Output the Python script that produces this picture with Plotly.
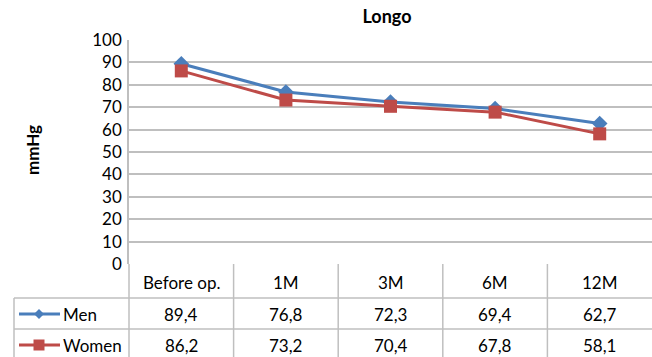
import plotly.graph_objects as go

# Follow-up timepoints and mean pressure (mmHg) by sex
categories = ["Before op.", "1M", "3M", "6M", "12M"]
men = [89.4, 76.8, 72.3, 69.4, 62.7]
women = [86.2, 73.2, 70.4, 67.8, 58.1]
y_ticks = [0, 10, 20, 30, 40, 50, 60, 70, 80, 90, 100]

BLUE = "#4A7EBB"
RED = "#BE4B48"
GRID = "#BFBFBF"
FONT = "Lato"

W, H = 652, 357
L, R, T, B = 129, 0, 40, 93  # plot area: x 129..652, y 40..264

def px_x(x):
    return (x - L) / (W - L - R)

def px_y(y):
    return (H - B - y) / (H - B - T)

fig = go.Figure()
idx = list(range(len(categories)))
fig.add_trace(go.Scatter(
    x=idx, y=men, mode="lines+markers", name="Men",
    line=dict(color=BLUE, width=3),
    marker=dict(symbol="diamond", size=12, color=BLUE),
))
fig.add_trace(go.Scatter(
    x=idx, y=women, mode="lines+markers", name="Women",
    line=dict(color=RED, width=3),
    marker=dict(symbol="square", size=13, color=RED),
))

shapes = []
annotations = []

# data table grid
col_w = 1.0 / len(categories)
y_hdr_top, y_hdr_bot, y_mid, y_bot = 264, 298, 329, 360
x_left = 14
line = dict(color=GRID, width=1.5)
for yy in (y_hdr_bot, y_mid):
    shapes.append(dict(type="line", xref="paper", yref="paper",
                       x0=px_x(x_left), x1=1, y0=px_y(yy), y1=px_y(yy), line=line))
for i in range(1, len(categories)):
    shapes.append(dict(type="line", xref="paper", yref="paper",
                       x0=i * col_w, x1=i * col_w, y0=px_y(y_hdr_top), y1=px_y(y_bot), line=line))
shapes.append(dict(type="line", xref="paper", yref="paper",
                   x0=0, x1=0, y0=px_y(y_hdr_top), y1=px_y(y_bot), line=line))
shapes.append(dict(type="line", xref="paper", yref="paper",
                   x0=px_x(x_left), x1=px_x(x_left), y0=px_y(y_hdr_bot), y1=px_y(y_bot), line=line))

txt = dict(family=FONT, size=17, color="#000")
row_centers = [282, 314, 345]
for i, cat in enumerate(categories):
    xc = (i + 0.5) * col_w
    cells = (cat,
             f"{men[i]:.1f}".replace(".", ","),
             f"{women[i]:.1f}".replace(".", ","))
    for rc, text in zip(row_centers, cells):
        annotations.append(dict(x=xc, y=px_y(rc), xref="paper", yref="paper",
                                xanchor="center", yanchor="middle",
                                text=text, showarrow=False, font=txt))

# legend keys inside the table's first column
for name, color, sym, rc in (("Men", BLUE, "diamond", row_centers[1]),
                             ("Women", RED, "square", row_centers[2])):
    yk = px_y(rc)
    shapes.append(dict(type="line", xref="paper", yref="paper",
                       x0=px_x(19), x1=px_x(60), y0=yk, y1=yk,
                       line=dict(color=color, width=3)))
    cx = 39
    if sym == "diamond":
        d = 5
        path = (f"M {px_x(cx)} {px_y(rc - d)} L {px_x(cx + d)} {yk} "
                f"L {px_x(cx)} {px_y(rc + d)} L {px_x(cx - d)} {yk} Z")
        shapes.append(dict(type="path", xref="paper", yref="paper", path=path,
                           fillcolor=color, line=dict(color=color, width=0)))
    else:
        d = 5.5
        shapes.append(dict(type="rect", xref="paper", yref="paper",
                           x0=px_x(cx - d), x1=px_x(cx + d), y0=px_y(rc + d), y1=px_y(rc - d),
                           fillcolor=color, line=dict(color=color, width=0)))
    annotations.append(dict(x=px_x(61), y=yk, xref="paper", yref="paper",
                            xanchor="left", yanchor="middle",
                            text=name, showarrow=False, font=txt))

# y-axis title
annotations.append(dict(x=px_x(32), y=px_y(150), xref="paper", yref="paper",
                        xanchor="center", yanchor="middle",
                        text="<b>mmHg</b>", textangle=-90, showarrow=False,
                        font=dict(family=FONT, size=17, color="#000")))

fig.update_layout(
    width=W, height=H, autosize=False,
    margin=dict(l=L, r=R, t=T, b=B, pad=0),
    paper_bgcolor="white", plot_bgcolor="white",
    showlegend=False,
    title=dict(text="<b>Longo</b>", x=px_x(387), xanchor="center", xref="paper",
               y=1 - 17 / H, yanchor="middle",
               font=dict(family=FONT, size=18, color="#000")),
    xaxis=dict(range=[-0.5, len(categories) - 0.5], showticklabels=False,
               showgrid=False, zeroline=False, showline=False, fixedrange=True),
    yaxis=dict(range=[0, 100], tickvals=y_ticks, showgrid=True, gridcolor=GRID,
               gridwidth=1.5, zeroline=False, showline=True, linecolor=GRID, linewidth=1.5,
               ticks="", ticklabelstandoff=2,
               tickfont=dict(family=FONT, size=17, color="#000")),
    shapes=shapes,
    annotations=annotations,
)

fig.write_html("out.html")
